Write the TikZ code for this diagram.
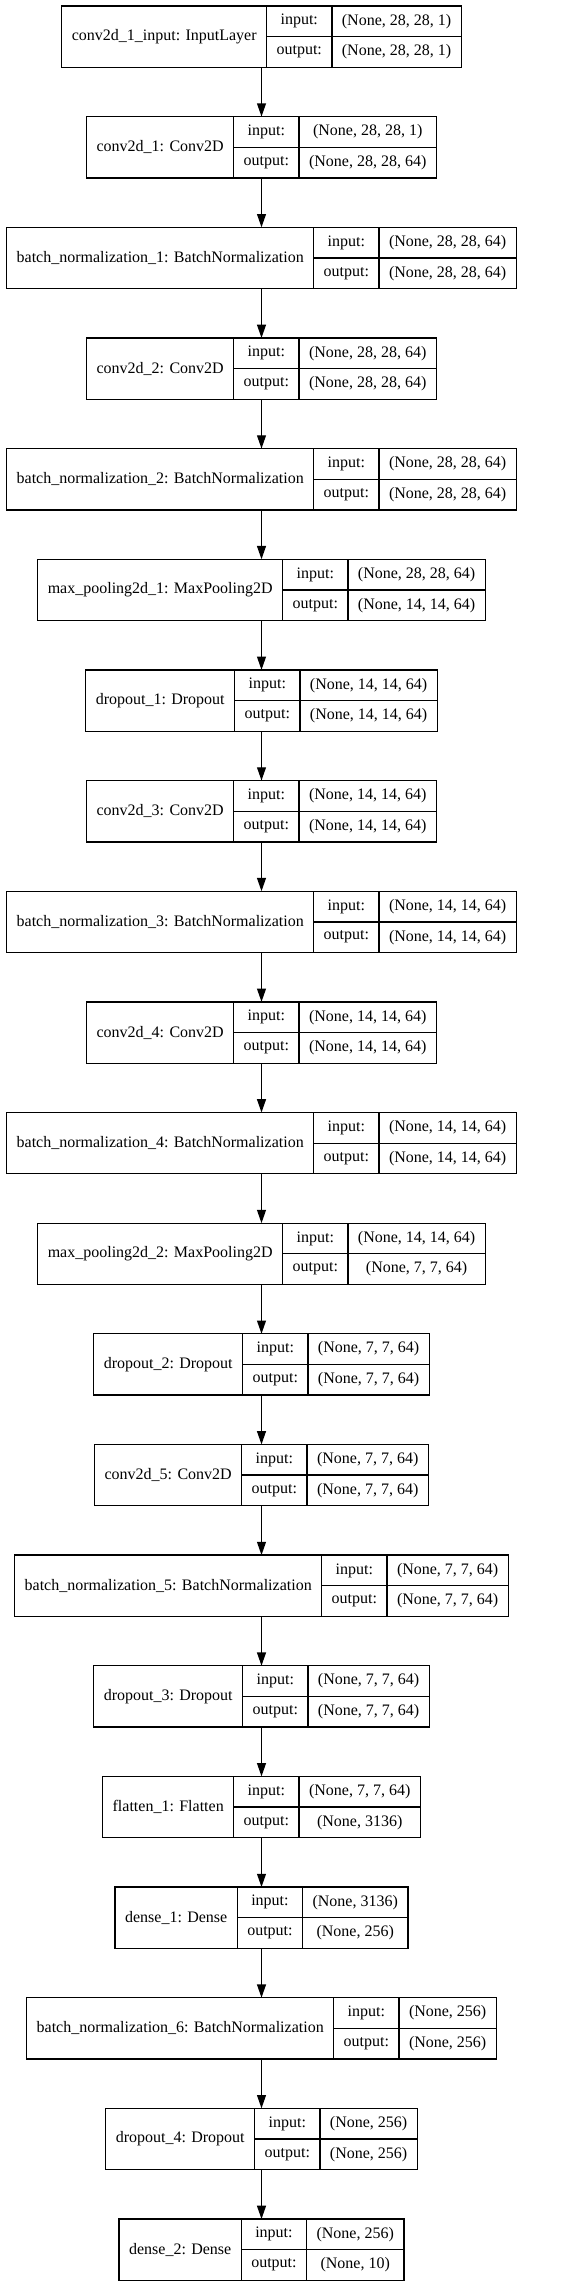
\documentclass[tikz,border=0pt]{standalone}
\usepackage{fontspec}
\setmainfont{Liberation Serif}
\usetikzlibrary{positioning,arrows.meta,fit}

\newcommand\lyrfont{\fontsize{16}{19}\selectfont}
\newlength\wname
\newlength\win
\newlength\wout
% width of a text, measured outside the picture state
\makeatletter
\newcommand\getwd[2]{\pgfinterruptpicture\normalfont\settowidth{#1}{\lyrfont #2}\global#1=#1\relax\endpgfinterruptpicture}
\makeatother
\tikzset{
  cell/.style={draw, line width=1.33pt, font=\lyrfont, minimum height=30.65pt, inner sep=0pt, outer sep=0pt, anchor=north west},
  namecell/.style={cell, minimum height=61.3pt},
  flow/.style={line width=1.33pt, -{Triangle[length=13.3pt,width=8.9pt]}},
}

\begin{document}
\begin{tikzpicture}[x=1pt,y=1pt]
        \useasboundingbox (0,0) rectangle (588,-2287);
        % layers
        \foreach \lab/\vin/\vout [count=\i from 0] in {
            {conv2d\_1\_input: InputLayer}/{(None, 28, 28, 1)}/{(None, 28, 28, 1)},
            {conv2d\_1: Conv2D}/{(None, 28, 28, 1)}/{(None, 28, 28, 64)},
            {batch\_normalization\_1: BatchNormalization}/{(None, 28, 28, 64)}/{(None, 28, 28, 64)},
            {conv2d\_2: Conv2D}/{(None, 28, 28, 64)}/{(None, 28, 28, 64)},
            {batch\_normalization\_2: BatchNormalization}/{(None, 28, 28, 64)}/{(None, 28, 28, 64)},
            {max\_pooling2d\_1: MaxPooling2D}/{(None, 28, 28, 64)}/{(None, 14, 14, 64)},
            {dropout\_1: Dropout}/{(None, 14, 14, 64)}/{(None, 14, 14, 64)},
            {conv2d\_3: Conv2D}/{(None, 14, 14, 64)}/{(None, 14, 14, 64)},
            {batch\_normalization\_3: BatchNormalization}/{(None, 14, 14, 64)}/{(None, 14, 14, 64)},
            {conv2d\_4: Conv2D}/{(None, 14, 14, 64)}/{(None, 14, 14, 64)},
            {batch\_normalization\_4: BatchNormalization}/{(None, 14, 14, 64)}/{(None, 14, 14, 64)},
            {max\_pooling2d\_2: MaxPooling2D}/{(None, 14, 14, 64)}/{(None, 7, 7, 64)},
            {dropout\_2: Dropout}/{(None, 7, 7, 64)}/{(None, 7, 7, 64)},
            {conv2d\_5: Conv2D}/{(None, 7, 7, 64)}/{(None, 7, 7, 64)},
            {batch\_normalization\_5: BatchNormalization}/{(None, 7, 7, 64)}/{(None, 7, 7, 64)},
            {dropout\_3: Dropout}/{(None, 7, 7, 64)}/{(None, 7, 7, 64)},
            {flatten\_1: Flatten}/{(None, 7, 7, 64)}/{(None, 3136)},
            {dense\_1: Dense}/{(None, 3136)}/{(None, 256)},
            {batch\_normalization\_6: BatchNormalization}/{(None, 256)}/{(None, 256)},
            {dropout\_4: Dropout}/{(None, 256)}/{(None, 256)},
            {dense\_2: Dense}/{(None, 256)}/{(None, 10)}} {
          \getwd{\wname}{\lab}
          \getwd{\win}{\vin}
          \getwd{\wout}{\vout}
          \pgfmathsetmacro\wn{\wname+20}
          \pgfmathsetmacro\wv{max(\win,\wout)+20}
          \pgfmathsetmacro\xl{261.5-(\wn+65.3+\wv)/2}
          \pgfmathsetmacro\yt{-6-\i*110.65}
          \node[namecell, minimum width=\wn pt] (L\i) at (\xl,\yt) {\lab};
          \node[cell, minimum width=65.3pt] (L\i ki) at (L\i.north east) {input:};
          \node[cell, minimum width=65.3pt] (L\i ko) at (L\i ki.south west) {output:};
          \node[cell, minimum width=\wv pt] (L\i vi) at (L\i ki.north east) {\vin};
          \node[cell, minimum width=\wv pt] (L\i vo) at (L\i ko.north east) {\vout};
          \node[fit=(L\i)(L\i vo), inner sep=0pt, outer sep=0pt] (B\i) {};
        }
        % arrows
        \foreach \i [evaluate=\i as \j using int(\i+1)] in {0,...,19}
          \draw[flow] (B\i) -- (B\j);
\end{tikzpicture}
\end{document}
